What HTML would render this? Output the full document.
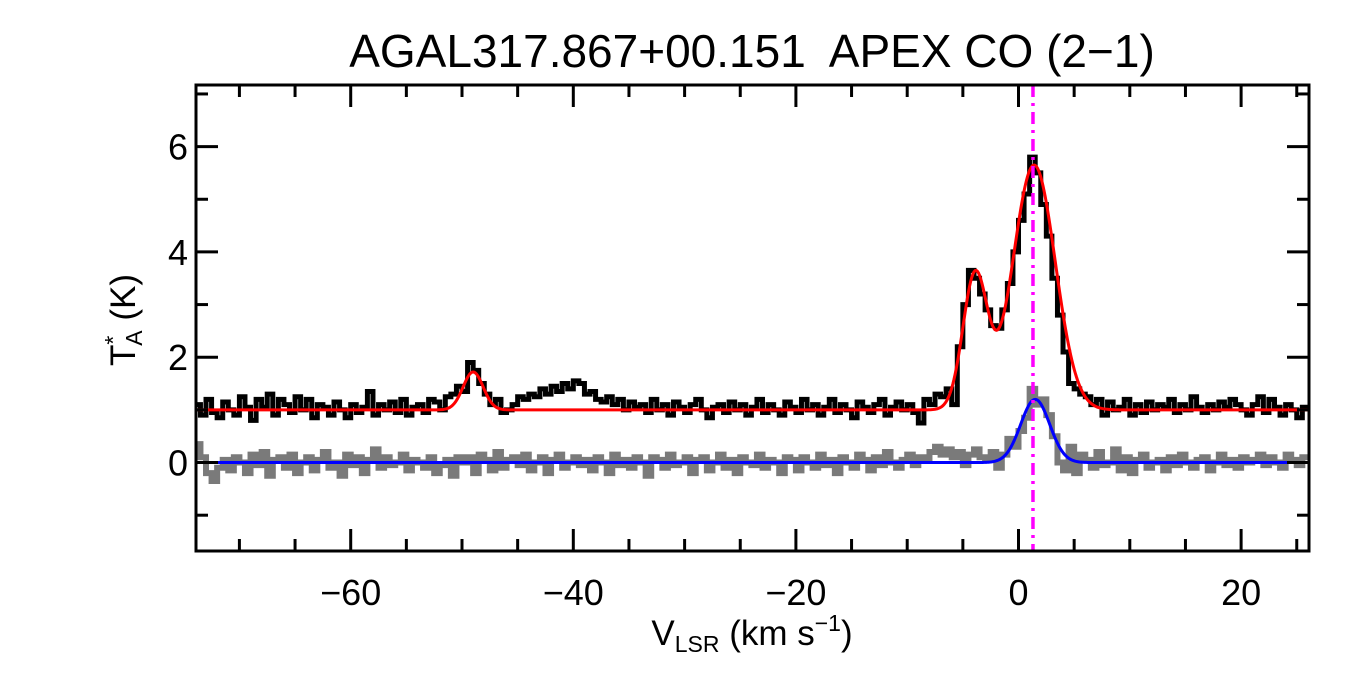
<!DOCTYPE html>
<html><head><meta charset="utf-8"><style>
body{margin:0;background:#fff;}
svg{display:block;font-family:"Liberation Sans",sans-serif;}
</style></head><body>
<svg id="chart" width="1350" height="675" viewBox="0 0 1350 675">
<text x="752" y="67" font-size="46" text-anchor="middle" xml:space="preserve">AGAL317.867+00.151  APEX CO (2−1)</text>
<g id="plot"></g>
<text x="752" y="645" font-size="35" text-anchor="middle">V<tspan font-size="23" dy="7">LSR</tspan><tspan dy="-7"> (km s</tspan><tspan font-size="23" dy="-14">−1</tspan><tspan dy="14">)</tspan></text>
<text transform="translate(135,320) rotate(-90)" font-size="35" text-anchor="middle">T<tspan font-size="23" dy="-14">*</tspan><tspan font-size="23" dx="-10" dy="21">A</tspan><tspan dy="-7"> (K)</tspan></text>
</svg>
<script>
const blackData=[1.1,0.9,1.2,0.95,0.85,1.15,1.0,0.9,1.25,1.05,
0.8,1.2,1.05,1.3,0.9,1.2,1.1,0.95,1.25,1.0,
1.2,0.85,1.1,1.05,0.9,1.15,1.0,0.85,1.1,0.95,
1.05,1.35,0.9,1.1,1.0,1.15,0.95,1.2,0.9,1.05,
1.1,0.95,1.2,1.15,1.0,1.25,1.3,1.45,1.35,1.9,
1.75,1.5,1.3,1.1,1.2,0.95,1.0,1.1,1.25,1.2,
1.3,1.25,1.4,1.3,1.45,1.35,1.5,1.4,1.55,1.5,
1.3,1.35,1.2,1.15,1.25,1.1,1.2,1.0,1.15,1.05,
1.1,0.95,1.2,1.0,1.1,0.9,1.15,1.05,0.95,1.1,
1.2,1.0,0.85,1.05,1.1,0.95,1.15,1.0,1.1,0.9,
1.05,1.2,0.95,1.1,1.0,0.9,1.15,1.05,0.95,1.2,
1.0,1.1,0.9,1.05,1.2,0.95,1.1,1.0,0.85,1.15,
1.05,0.95,1.1,1.2,0.9,1.05,1.15,1.0,1.1,0.95,
0.75,1.2,1.1,1.3,1.25,1.4,1.1,2.2,3.0,3.65,
3.5,3.2,2.9,2.6,2.55,2.9,3.4,4.0,4.6,5.1,
5.8,5.5,4.9,4.3,3.5,2.8,2.1,1.5,1.4,1.3,
1.25,1.1,1.2,0.9,1.15,1.0,1.05,1.2,0.9,1.1,
0.95,1.15,1.0,1.1,1.05,1.2,0.95,1.1,1.0,1.25,
1.05,0.95,1.1,1.0,1.15,1.05,1.2,1.1,1.0,0.9,
1.1,1.25,0.95,1.2,1.05,0.9,1.1,1.0,0.85,1.05];
const greyData=[0.35,0.1,-0.2,-0.35,-0.1,0.05,-0.15,0.1,0.0,-0.2,
0.15,-0.05,0.2,-0.25,0.05,0.1,-0.1,0.15,-0.2,0.0,
0.1,-0.15,0.05,0.2,-0.1,0.0,-0.25,0.15,-0.05,0.1,
-0.2,0.05,0.25,-0.1,0.1,-0.05,0.0,0.15,-0.15,0.05,
0.0,-0.1,0.1,-0.2,-0.05,0.05,-0.25,0.1,0.0,0.1,
-0.2,0.15,0.05,-0.15,0.2,-0.1,0.05,0.1,-0.05,0.15,
-0.15,0.0,0.1,-0.2,0.05,0.15,-0.1,0.0,0.1,-0.05,
0.05,-0.15,0.1,0.0,-0.2,0.15,-0.05,0.05,-0.1,0.1,
0.0,-0.25,0.1,0.05,-0.1,0.15,-0.05,0.0,0.1,-0.2,
0.05,0.1,-0.15,0.0,0.15,-0.1,0.05,-0.2,0.1,0.0,
-0.05,0.15,-0.1,0.05,0.0,-0.2,0.1,0.05,-0.15,0.1,
0.0,-0.1,0.15,-0.05,0.05,-0.2,0.1,0.0,-0.1,0.15,
0.05,-0.15,0.1,-0.05,0.2,0.0,-0.1,0.05,0.15,-0.05,
0.1,0.05,0.2,0.3,0.15,0.25,0.1,0.2,-0.05,0.15,
0.25,0.1,0.05,0.2,-0.1,0.15,0.45,0.3,0.6,0.85,
1.4,1.1,1.2,0.9,0.5,0.0,-0.15,0.3,-0.2,0.15,
0.05,-0.1,0.2,-0.05,0.0,0.25,-0.15,0.1,-0.2,0.05,
0.15,-0.1,0.0,0.05,-0.15,0.1,-0.05,0.15,0.0,-0.1,
0.05,0.1,-0.15,0.0,0.15,-0.05,0.05,-0.1,0.1,0.0,
0.05,0.15,-0.05,0.1,0.0,-0.1,0.15,0.05,-0.05,0.1];
const channelStart=-73.75, channelWidth=0.5;
const redBaseline=1.0;
const redAmps=[0.72,2.55,4.65], redCenters=[-49,-3.9,1.4], redSigmas=[0.9,1.1,1.9];
const blueAmps=[1.2], blueCenters=[1.5], blueSigmas=[1.3];
const vlineVel=1.3;
const xTicks=[-60,-40,-20,0,20], xTickLabels=["−60","−40","−20","0","20"];
const yTicks=[0,2,4,6], yTickLabels=["0","2","4","6"];
const X0=-73.9,X1=26.1,Y0=-1.68,Y1=7.17;
const L=196,R=1309,T=85,B=551;
const sx=v=>L+(v-X0)/(X1-X0)*(R-L);
const sy=v=>B-(v-Y0)/(Y1-Y0)*(B-T);
const NS='http://www.w3.org/2000/svg';
const g=document.getElementById('plot');
function mk(t,a){const e=document.createElementNS(NS,t);for(const k in a)e.setAttribute(k,a[k]);g.appendChild(e);return e;}
const cp=mk('clipPath',{id:'clip'});
const cr=document.createElementNS(NS,'rect');cr.setAttribute('x',L);cr.setAttribute('y',T);cr.setAttribute('width',R-L);cr.setAttribute('height',B-T);cp.appendChild(cr);
function stepPath(d){let p='';d.forEach((v,i)=>{const a=sx(channelStart+i*channelWidth-channelWidth/2),b=sx(channelStart+i*channelWidth+channelWidth/2),y=sy(v);p+=(i?'L':'M')+a+' '+y+'L'+b+' '+y;});return p;}
function gauss(base,A,C,S){let p='';for(let v=X0;v<=X1;v+=0.1){let y=base;for(let k=0;k<A.length;k++)y+=A[k]*Math.exp(-Math.pow((v-C[k])/S[k],2)/2);p+=(p?'L':'M')+sx(v)+' '+sy(y);}return p;}
const gr=mk('path',{d:stepPath(greyData),fill:'none',stroke:'#7a7a7a','stroke-width':6,'clip-path':'url(#clip)'});

const bk=mk('path',{d:stepPath(blackData),fill:'none',stroke:'#000','stroke-width':5,'clip-path':'url(#clip)'});

const rd=mk('path',{d:gauss(redBaseline,redAmps,redCenters,redSigmas),fill:'none',stroke:'#ff0000','stroke-width':3,'clip-path':'url(#clip)'});

const bl=mk('path',{d:gauss(0,blueAmps,blueCenters,blueSigmas),fill:'none',stroke:'#0000ff','stroke-width':3,'clip-path':'url(#clip)'});

const vl=mk('line',{x1:sx(vlineVel),x2:sx(vlineVel),y1:T,y2:B,stroke:'#ff00ff','stroke-width':3.5,'stroke-dasharray':'12 6 3 6'});

const fr=mk('rect',{x:L,y:T,width:R-L,height:B-T,fill:'none',stroke:'#000','stroke-width':3});

for(let v=-70;v<=25;v+=5){const maj=v%20===0,len=maj?22:12,x=sx(v);
const t1=mk('line',{x1:x,x2:x,y1:B,y2:B-len,stroke:'#000','stroke-width':3});
const t2=mk('line',{x1:x,x2:x,y1:T,y2:T+len,stroke:'#000','stroke-width':3});}
for(let v=-1;v<=7;v++){const maj=v%2===0,len=maj?22:12,y=sy(v);
const t1=mk('line',{x1:L,x2:L+len,y1:y,y2:y,stroke:'#000','stroke-width':3});
const t2=mk('line',{x1:R,x2:R-len,y1:y,y2:y,stroke:'#000','stroke-width':3});}
xTicks.forEach((v,i)=>{const t=mk('text',{x:sx(v),y:605,'font-size':36,'text-anchor':'middle'});t.textContent=xTickLabels[i];
});
yTicks.forEach((v,i)=>{const t=mk('text',{x:188,y:sy(v)+13,'font-size':36,'text-anchor':'end'});t.textContent=yTickLabels[i];
});
</script>
</body></html>
